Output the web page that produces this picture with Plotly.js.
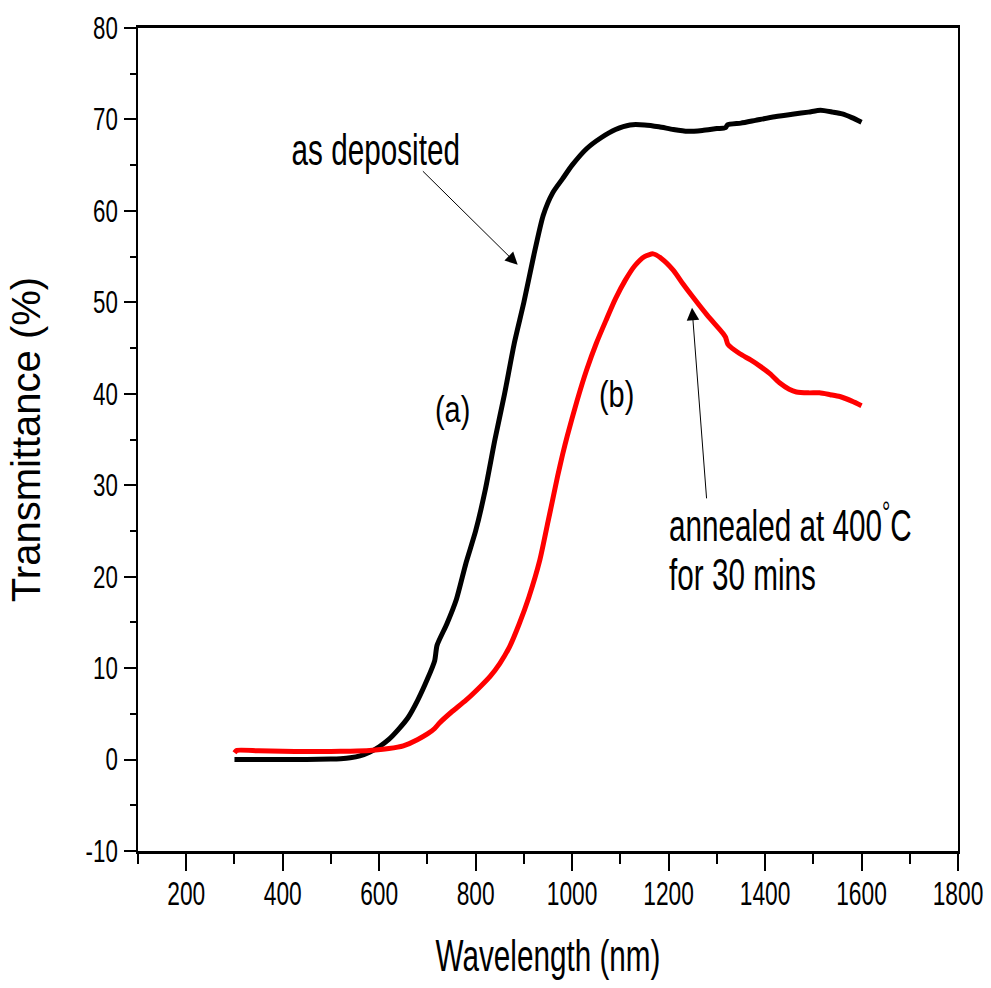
<!DOCTYPE html>
<html>
<head>
<meta charset="utf-8">
<script src="https://cdn.plot.ly/plotly-3.0.1.min.js"></script>
<style>
html,body{margin:0;padding:0;background:#fff;}
#chart{width:991px;height:988px;}
</style>
</head>
<body>
<div id="chart"></div>
<script>
// (a) as deposited
const wlA = [300,350,400,450,500,520,540,560,580,600,620,640,660,680,700,715,720,740,760,780,800,820,840,860,880,900,920,940,960,980,1000,1030,1060,1090,1120,1150,1180,1210,1240,1270,1300,1318,1322,1350,1380,1420,1460,1490,1515,1540,1560,1580,1600];
const tA  = [0,0,0,0,0.05,0.1,0.2,0.4,0.8,1.4,2.2,3.3,4.6,6.5,8.8,10.8,12.5,14.8,17.5,21.5,25,29.5,35,40,45.5,50,55,59.5,62,63.5,65,66.8,68,68.9,69.4,69.4,69.2,68.9,68.7,68.8,69,69.1,69.4,69.6,69.9,70.3,70.6,70.8,71.0,70.8,70.6,70.2,69.7];

// (b) annealed at 400 C for 30 mins
const wlB = [300,305,350,400,450,500,540,580,620,650,680,700,715,725,750,780,810,830,850,870,890,910,933,950,960,970,980,990,1010,1030,1050,1070,1090,1110,1130,1150,1168,1185,1210,1230,1250,1280,1313,1318,1323,1347,1370,1390,1410,1430,1450,1465,1490,1513,1535,1555,1580,1600];
const tB  = [0.75,1.0,0.95,0.9,0.88,0.88,0.92,1.0,1.2,1.5,2.2,2.8,3.4,4.0,5.2,6.5,8.0,9.1,10.5,12.3,14.8,17.7,21.8,26,28.5,31,33.3,35.4,39.2,42.6,45.5,48,50.4,52.4,54.0,55.0,55.3,54.8,53.5,52,50.6,48.6,46.6,46.2,45.4,44.4,43.7,43,42.2,41.2,40.5,40.2,40.1,40.1,39.9,39.7,39.2,38.7];

const xTicks = [200,400,600,800,1000,1200,1400,1600,1800];
const xMinor = [100,300,500,700,900,1100,1300,1500,1700];
const yTicks = [-10,0,10,20,30,40,50,60,70,80];
const yMinor = [-5,5,15,25,35,45,55,65,75];

const arial = '"Liberation Sans", Arial, sans-serif';

const traces = [
  {x: wlA, y: tA, mode: 'lines', line: {color: '#000000', width: 5, shape: 'spline', smoothing: 0.6}, hoverinfo: 'skip', showlegend: false},
  {x: wlB, y: tB, mode: 'lines', line: {color: '#ff0000', width: 5, shape: 'spline', smoothing: 0.6}, hoverinfo: 'skip', showlegend: false}
];

const layout = {
  width: 991, height: 988,
  margin: {l: 138, r: 33, t: 28, b: 137},
  paper_bgcolor: '#ffffff', plot_bgcolor: '#ffffff',
  showlegend: false,
  xaxis: {
    range: [100, 1800], tickmode: 'array', tickvals: xTicks, ticktext: xTicks.map(String),
    ticks: 'outside', ticklen: 17, tickwidth: 2, tickcolor: '#000',
    minor: {tickmode: 'array', tickvals: xMinor, ticks: 'outside', ticklen: 10, tickwidth: 2, tickcolor: '#000'},
    showline: true, linewidth: 3, linecolor: '#000', mirror: true,
    showgrid: false, zeroline: false,
    tickfont: {family: arial, size: 33, color: '#000'},
    ticklabelstandoff: 0,
    ticklabeloverflow: 'allow',
    title: {text: 'Wavelength (nm)', font: {family: arial, size: 44, color: '#000'}, standoff: 20}
  },
  yaxis: {
    range: [-10, 80], tickmode: 'array', tickvals: yTicks, ticktext: yTicks.map(String),
    ticks: 'outside', ticklen: 12, tickwidth: 2, tickcolor: '#000',
    minor: {tickmode: 'array', tickvals: yMinor, ticks: 'outside', ticklen: 6, tickwidth: 2, tickcolor: '#000'},
    showline: true, linewidth: 2, linecolor: '#000', mirror: true,
    showgrid: false, zeroline: false,
    tickfont: {family: arial, size: 31, color: '#000'},
    ticklabelstandoff: 0,
    ticklabeloverflow: 'allow',
    title: {text: 'Transmittance (%)', font: {family: arial, size: 40, color: '#000'}, standoff: 20}
  },
  annotations: [
    {x: 592.8, y: 66.7, xref: 'x', yref: 'y', text: 'as deposited', showarrow: false, font: {family: arial, size: 44, color: '#000'}},
    {x: 887.2, y: 54.1, ax: 687.5, ay: 64.5, axref: 'x', ayref: 'y', xref: 'x', yref: 'y', text: '', showarrow: true, arrowhead: 2, arrowsize: 2.5, arrowwidth: 1, arrowcolor: '#000'},
    {x: 752.4, y: 38.3, xref: 'x', yref: 'y', text: '(a)', showarrow: false, font: {family: arial, size: 37, color: '#000'}},
    {x: 1092.4, y: 39.9, xref: 'x', yref: 'y', text: '(b)', showarrow: false, font: {family: arial, size: 37, color: '#000'}},
    {x: 1248.6, y: 49.4, ax: 1279, ay: 28.4, axref: 'x', ayref: 'y', xref: 'x', yref: 'y', text: '', showarrow: true, arrowhead: 2, arrowsize: 2.5, arrowwidth: 1, arrowcolor: '#000'},
    {x: 1196, y: 25.9, xref: 'x', yref: 'y', xanchor: 'left', text: 'annealed at 400<sup>°</sup>C', showarrow: false, font: {family: arial, size: 44, color: '#000'}},
    {x: 1196, y: 20.2, xref: 'x', yref: 'y', xanchor: 'left', text: 'for 30 mins', showarrow: false, font: {family: arial, size: 44, color: '#000'}}
  ]
};

// horizontal condensing of text (the original uses a narrow face)
function squeeze(el, s, mode, dx, dy) {
  const bb = el.getBBox();
  if (!bb.width) return;
  let cx = bb.x + bb.width / 2;
  if (mode === 'left') cx = bb.x;
  if (mode === 'right') cx = bb.x + bb.width;
  const t = el.getAttribute('transform') || '';
  el.setAttribute('transform', t + ' translate(' + (dx || 0) + ',' + (dy || 0) + ') translate(' + cx + ',0) scale(' + s + ',1) translate(' + (-cx) + ',0)');
}

Plotly.newPlot('chart', traces, layout, {staticPlot: true, displayModeBar: false}).then(function (gd) {
  gd.querySelectorAll('.xtick text').forEach(el => squeeze(el, 0.69, 'center', 0, -6));
  gd.querySelectorAll('.ytick text').forEach(el => squeeze(el, 0.72, 'right', 0, 0));
  gd.querySelectorAll('text.xtitle').forEach(el => squeeze(el, 0.675, 'center', 0, 4));
  gd.querySelectorAll('g.annotation').forEach(g => {
    const i = +g.getAttribute('data-index');
    const txt = g.querySelector('text.annotation-text');
    if (!txt) return;
    const a = layout.annotations[i];
    if (!a || !a.text) return;
    const s = (a.text === '(a)' || a.text === '(b)') ? 0.78 : 0.675;
    squeeze(txt, s, a.xanchor === 'left' ? 'left' : 'center', 0, 0);
  });
});
</script>
</body>
</html>
